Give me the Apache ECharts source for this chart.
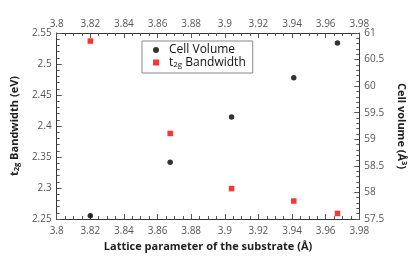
<!DOCTYPE html>
<html><head><meta charset="utf-8">
<script src="https://cdn.jsdelivr.net/npm/echarts@6/dist/echarts.min.js"></script>
<style>html,body{margin:0;padding:0;background:#fff}#c{width:416px;height:258px}</style>
</head><body><div id="c"></div>
<script>
const lattice = [3.82, 3.8675, 3.904, 3.941, 3.967];
const cellVolume = [57.56, 58.57, 59.42, 60.16, 60.81];
const bandwidth = [2.537, 2.388, 2.299, 2.279, 2.259];
const xTicks = {min: 3.8, max: 3.98, step: 0.02};
const yLeftTicks = {min: 2.25, max: 2.55, step: 0.05};
const yRightTicks = {min: 57.5, max: 61, step: 0.5};

const FONT = 'Open Sans';
const labelStyle = {color: '#555', fontSize: 10, fontFamily: FONT};
const lineStyle = {lineStyle: {color: '#333', width: 1}};
const tickStyle = {inside: true, length: 5, lineStyle: {color: '#555'}};
const fmt = v => String(+(+v).toFixed(2));

const chart = echarts.init(document.getElementById('c'), null, {renderer: 'canvas'});
chart.setOption({
  animation: false,
  textStyle: {fontFamily: FONT},
  grid: {left: 43, right: 45, top: 33, bottom: 39, containLabel: false},
  legend: {
    orient: 'vertical', left: 142, top: 41,
    padding: [3, 7, 4, 11],
    borderColor: '#888', borderWidth: 1, borderRadius: 0,
    backgroundColor: '#fff',
    itemWidth: 6, itemHeight: 6, itemGap: 0,
    textStyle: {fontSize: 12, color: '#111', fontFamily: FONT,
      rich: {g: {width: 5, lineHeight: 13},
             n: {fontSize: 12, color: '#111', fontFamily: FONT, lineHeight: 13},
             s: {fontSize: 8, color: '#111', fontFamily: FONT, padding: [5, 0, 0, 0], lineHeight: 13}}},
    formatter: name => name === 'bw' ? '{g|}{n|t}{s|2g}{n| Bandwidth}' : '{g|}{n|Cell Volume}',
    data: [{name: 'cv', icon: 'circle'}, {name: 'bw', icon: 'rect'}]
  },
  xAxis: [{
    type: 'value', position: 'bottom', min: xTicks.min, max: xTicks.max, interval: xTicks.step,
    axisLine: lineStyle, axisTick: tickStyle,
    minorTick: {show: true, splitNumber: 4, length: 3, lineStyle: {color: '#555'}},
    splitLine: {show: false},
    axisLabel: Object.assign({margin: 7, formatter: fmt}, labelStyle),
    name: 'Lattice parameter of the substrate (Å)', nameLocation: 'middle', nameGap: 21,
    nameTextStyle: {fontSize: 11, fontWeight: 'bold', color: '#222', fontFamily: FONT}
  }, {
    type: 'value', position: 'top', min: xTicks.min, max: xTicks.max, interval: xTicks.step,
    axisLine: lineStyle, axisTick: tickStyle,
    minorTick: {show: true, splitNumber: 4, length: 3, lineStyle: {color: '#555'}},
    splitLine: {show: false},
    axisLabel: Object.assign({margin: 4, formatter: fmt}, labelStyle)
  }],
  yAxis: [{
    type: 'value', position: 'left', min: yLeftTicks.min, max: yLeftTicks.max, interval: yLeftTicks.step,
    axisLine: lineStyle, axisTick: tickStyle,
    minorTick: {show: true, splitNumber: 5, length: 3, lineStyle: {color: '#555'}},
    splitLine: {show: false},
    axisLabel: Object.assign({margin: 5, formatter: fmt}, labelStyle),
    name: '{b|t}{s|2g}{b| Bandwidth (eV)}', nameLocation: 'middle', nameGap: 33,
    nameTextStyle: {rich: {
      b: {fontSize: 11, fontWeight: 'bold', color: '#222', fontFamily: FONT, lineHeight: 14},
      s: {fontSize: 7.5, fontWeight: 'bold', color: '#222', fontFamily: FONT, padding: [5, 0, 0, 0], lineHeight: 14}}}
  }, {
    type: 'value', position: 'right', min: yRightTicks.min, max: yRightTicks.max, interval: yRightTicks.step,
    axisLine: lineStyle, axisTick: tickStyle,
    minorTick: {show: true, splitNumber: 5, length: 3, lineStyle: {color: '#555'}},
    splitLine: {show: false},
    axisLabel: Object.assign({margin: 5, formatter: v => String(+(+v).toFixed(1))}, labelStyle),
    name: '{b|Cell volume (Å}{p|3}{b|)}', nameLocation: 'middle', nameGap: 34, nameRotate: -90,
    nameTextStyle: {rich: {
      b: {fontSize: 11, fontWeight: 'bold', color: '#222', fontFamily: FONT, lineHeight: 14},
      p: {fontSize: 7.5, fontWeight: 'bold', color: '#222', fontFamily: FONT, padding: [0, 0, 5, 0], lineHeight: 14}}}
  }],
  series: [{
    name: 'cv', type: 'scatter', xAxisIndex: 0, yAxisIndex: 1,
    symbol: 'circle', symbolSize: 5.5, itemStyle: {color: '#000'},
    data: lattice.map((x, i) => [x, cellVolume[i]])
  }, {
    name: 'bw', type: 'scatter', xAxisIndex: 0, yAxisIndex: 0,
    symbol: 'rect', symbolSize: 5.5, itemStyle: {color: '#ff0000'},
    data: lattice.map((x, i) => [x, bandwidth[i]])
  }]
});
</script></body></html>
